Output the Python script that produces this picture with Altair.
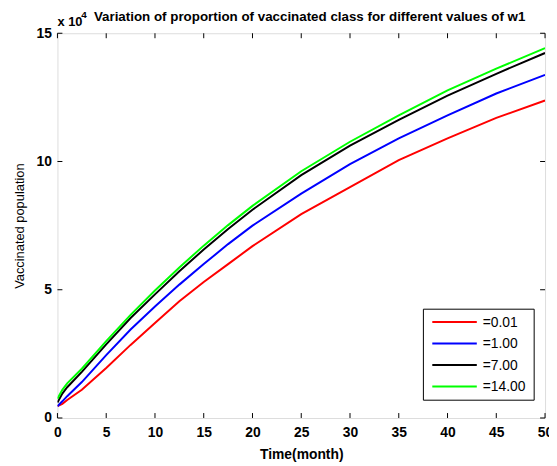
import altair as alt
import pandas as pd

# ---- data (values in units of 10^4) ----
time = [0, 0.5, 1, 2.5, 5, 7.5, 10, 12.5, 15, 17.5, 20, 25, 30, 35, 40, 45, 50]
red = [0.46, 0.55, 0.70, 1.10, 1.95, 2.85, 3.70, 4.55, 5.30, 6.00, 6.70, 7.95, 9.00, 10.05, 10.90, 11.70, 12.38]
blue = [0.46, 0.65, 0.85, 1.40, 2.45, 3.45, 4.35, 5.20, 6.00, 6.78, 7.50, 8.75, 9.90, 10.90, 11.80, 12.65, 13.38]
black = [0.60, 0.95, 1.20, 1.80, 2.87, 3.90, 4.82, 5.72, 6.57, 7.37, 8.12, 9.47, 10.62, 11.62, 12.57, 13.42, 14.23]
green = [0.75, 1.10, 1.35, 1.92, 3.00, 4.02, 4.97, 5.87, 6.72, 7.52, 8.27, 9.62, 10.77, 11.80, 12.77, 13.62, 14.42]

labels = ["=0.01", "=1.00", "=7.00", "=14.00"]
colors = ["#ff0000", "#0000ff", "#000000", "#00ff00"]
x_ticks = list(range(0, 51, 5))
y_ticks = [0, 5, 10, 15]
title_text = "Variation of proportion of vaccinated class for different values of w1"

rows = []
for k, (lab, ser) in enumerate(zip(labels, [red, blue, black, green])):
    for t, v in zip(time, ser):
        rows.append({"t": t, "v": v, "series": lab, "ord": k})
df = pd.DataFrame(rows)

W, H = 493, 389
FONT = "Liberation Sans"
xs = alt.Scale(domain=[0, 50], nice=False, zero=False)
ys = alt.Scale(domain=[0, 15], nice=False)

lines = alt.Chart(df).mark_line(strokeWidth=2, clip=True).encode(
    x=alt.X("t:Q", scale=xs, axis=alt.Axis(
        values=x_ticks, title="Time(month)", ticks=False, domain=False, grid=False,
        labelFont=FONT, labelFontWeight="bold", labelFontSize=14, labelPadding=8,
        labelColor="black", titleFont=FONT, titleFontWeight="bold", titleFontSize=14,
        titleColor="black", titlePadding=8, labelFlush=False)),
    y=alt.Y("v:Q", scale=ys, axis=alt.Axis(
        values=y_ticks, title="Vaccinated population", ticks=False, domain=False, grid=False,
        labelFont=FONT, labelFontWeight="bold", labelFontSize=14, labelPadding=6,
        labelColor="black", titleFont=FONT, titleFontWeight="normal", titleFontSize=13,
        titleColor="black", titlePadding=10, labelFlush=False)),
    color=alt.Color("series:N", scale=alt.Scale(domain=labels, range=colors), legend=None),
    order=alt.Order("ord:Q"),
)

xt = pd.DataFrame({"x": x_ticks})
yt = pd.DataFrame({"y": y_ticks})
tick_style = dict(color="black", strokeWidth=1)
xb = alt.Chart(xt).mark_rule(**tick_style).encode(x=alt.X("x:Q", scale=xs), y=alt.value(H), y2=alt.value(H - 5))
xtp = alt.Chart(xt).mark_rule(**tick_style).encode(x=alt.X("x:Q", scale=xs), y=alt.value(0), y2=alt.value(5))
yl = alt.Chart(yt).mark_rule(**tick_style).encode(y=alt.Y("y:Q", scale=ys), x=alt.value(0), x2=alt.value(5))
yr = alt.Chart(yt).mark_rule(**tick_style).encode(y=alt.Y("y:Q", scale=ys), x=alt.value(W), x2=alt.value(W - 5))

ann = pd.DataFrame({"t": ["x 10"], "s": ["4"], "title": [title_text]})
x10 = alt.Chart(ann).mark_text(font=FONT, fontWeight="bold", fontSize=13, align="left",
                               baseline="alphabetic", color="black").encode(
    text="t:N", x=alt.value(0), y=alt.value(-7))
sup = alt.Chart(ann).mark_text(font=FONT, fontWeight="bold", fontSize=10, align="left",
                               baseline="alphabetic", color="black").encode(
    text="s:N", x=alt.value(24), y=alt.value(-15))
ttl = alt.Chart(ann).mark_text(font=FONT, fontWeight="bold", fontSize=13.5, align="center",
                               baseline="alphabetic", color="black").encode(
    text="title:N", x=alt.value(255), y=alt.value(-12))

# ---- manual legend box ----
LX, LY, LW, LH = 370, 279, 112, 92
legend_layers = [
    alt.Chart(ann).mark_rect(fill="white", stroke="black", strokeWidth=1).encode(
        x=alt.value(LX), x2=alt.value(LX + LW), y=alt.value(LY), y2=alt.value(LY + LH))
]
for i, (lab, col) in enumerate(zip(labels, colors)):
    yy = LY + 13 + i * 21.7
    legend_layers.append(
        alt.Chart(ann).mark_rule(color=col, strokeWidth=2).encode(
            x=alt.value(LX + 9), x2=alt.value(LX + 54), y=alt.value(yy)))
    legend_layers.append(
        alt.Chart(pd.DataFrame({"lab": [lab]})).mark_text(
            font=FONT, fontSize=14, align="left", baseline="middle", color="black").encode(
            text="lab:N", x=alt.value(LX + 60), y=alt.value(yy + 1)))

chart = alt.layer(lines, xb, xtp, yl, yr, x10, sup, ttl, *legend_layers).properties(
    width=W, height=H,
    autosize=alt.AutoSizeParams(type="none"),
    padding={"left": 50, "top": 23, "right": 4, "bottom": 46},
).configure_view(stroke="black", strokeWidth=1).configure(background="white")

chart.save("out.html", embed_options={"renderer": "svg", "actions": False})
